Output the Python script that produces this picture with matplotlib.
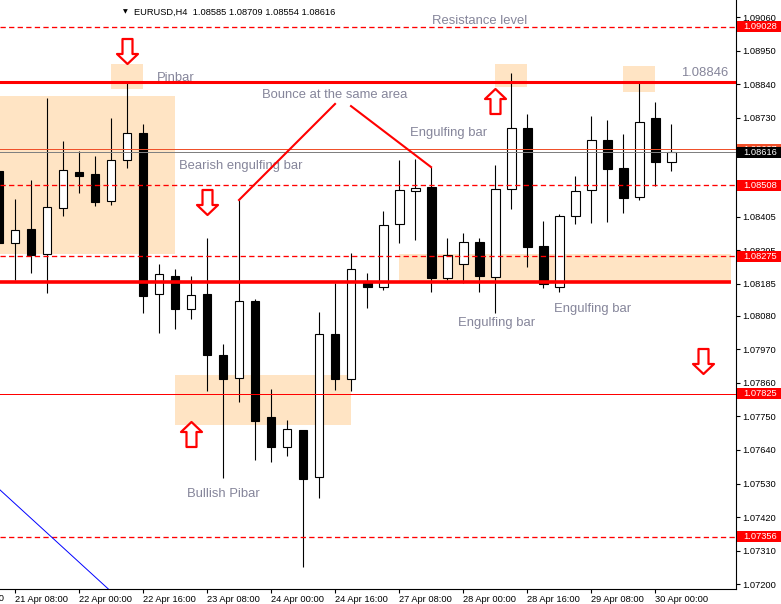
import numpy as np
import matplotlib
matplotlib.use("Agg")
import matplotlib.pyplot as plt
import matplotlib.transforms as mtransforms
from matplotlib.patches import Rectangle
from matplotlib.path import Path

plt.rcParams['font.family'] = ['Liberation Sans', 'DejaVu Sans']

# EURUSD H4 bars, index 0 = 21 Apr 04:00
opens = [1.08555, 1.08319, 1.08365, 1.08283, 1.08434, 1.08552, 1.08545, 1.08456, 1.08591, 1.08680,
         1.08151, 1.08211, 1.08102, 1.08151, 1.07951, 1.07876, 1.08128, 1.07748, 1.07650, 1.07705,
         1.07551, 1.08020, 1.07873, 1.08194, 1.08174, 1.08381, 1.08489, 1.08502, 1.08204, 1.08250,
         1.08322, 1.08207, 1.08496, 1.08696, 1.08309, 1.08174, 1.08407, 1.08493, 1.08657, 1.08565,
         1.08470, 1.08729, 1.08585]
highs = [1.08575, 1.08463, 1.08525, 1.08794, 1.08653, 1.08621, 1.08604, 1.08729, 1.08847, 1.08709,
         1.08250, 1.08233, 1.08211, 1.08335, 1.07987, 1.08460, 1.08135, 1.07840, 1.07738, 1.07705,
         1.08092, 1.08188, 1.08286, 1.08220, 1.08424, 1.08591, 1.08594, 1.08568, 1.08335, 1.08352,
         1.08335, 1.08575, 1.08876, 1.08742, 1.08391, 1.08414, 1.08538, 1.08735, 1.08722, 1.08676,
         1.08844, 1.08781, 1.08709]
lows = [1.08296, 1.08197, 1.08220, 1.08155, 1.08407, 1.08483, 1.08440, 1.08443, 1.08565, 1.08089,
        1.08024, 1.08037, 1.08069, 1.07833, 1.07548, 1.07797, 1.07607, 1.07600, 1.07620, 1.07256,
        1.07482, 1.07837, 1.07833, 1.08106, 1.08165, 1.08319, 1.08329, 1.08158, 1.08197, 1.08188,
        1.08158, 1.08089, 1.08430, 1.08240, 1.08171, 1.08158, 1.08381, 1.08384, 1.08388, 1.08417,
        1.08460, 1.08506, 1.08554]
closes = [1.08319, 1.08361, 1.08279, 1.08437, 1.08558, 1.08538, 1.08453, 1.08591, 1.08680, 1.08145,
          1.08217, 1.08102, 1.08148, 1.07951, 1.07873, 1.08128, 1.07735, 1.07650, 1.07709, 1.07545,
          1.08020, 1.07873, 1.08233, 1.08174, 1.08378, 1.08493, 1.08499, 1.08204, 1.08279, 1.08322,
          1.08211, 1.08496, 1.08696, 1.08306, 1.08184, 1.08407, 1.08489, 1.08657, 1.08561, 1.08466,
          1.08716, 1.08585, 1.08616]

x_tick_pos = [1, 5, 9, 13, 17, 21, 25, 29, 33, 37, 41]
x_tick_labels = ['21 Apr 08:00', '22 Apr 00:00', '22 Apr 16:00', '23 Apr 08:00', '24 Apr 00:00',
                 '24 Apr 16:00', '27 Apr 08:00', '28 Apr 00:00', '28 Apr 16:00', '29 Apr 08:00',
                 '30 Apr 00:00']
y_ticks = [1.09060, 1.08950, 1.08840, 1.08730, 1.08620, 1.08510, 1.08405, 1.08295, 1.08185,
           1.08080, 1.07970, 1.07860, 1.07750, 1.07640, 1.07530, 1.07420, 1.07310, 1.07200]

dashed_levels = [1.09028, 1.08508, 1.08275, 1.07356]
resistance = 1.08846
support = 1.08192
thin_level = 1.07825
orange_level = 1.08627
bid = closes[-1]

# zones: x0, x1, y0, y1
zones = [(-1, 11, 1.08283, 1.08801), (7, 9, 1.08824, 1.08906), (31, 33, 1.08830, 1.08906),
         (39, 41, 1.08814, 1.08899), (25, 45.75, 1.08190, 1.08283), (11, 22, 1.07722, 1.07886)]
# arrows: x, y, direction
arrows = [(8, 1.08950, 'down'), (13, 1.08455, 'down'), (31, 1.08785, 'up'),
          (12, 1.07691, 'up'), (44, 1.07932, 'down')]

fig = plt.figure(figsize=(7.81, 6.04), dpi=100)
ax = fig.add_axes([0, 15 / 604, 736 / 781, 589 / 604])
ax.set_xlim(0.0625, 46.06)
ax.set_ylim(1.07184, 1.09116)

tag_tr = mtransforms.blended_transform_factory(ax.transAxes, ax.transData)

for x0, x1, y0, y1 in zones:
    ax.add_patch(Rectangle((x0, y0), x1 - x0, y1 - y0, facecolor='#FFE4C4', edgecolor='none', zorder=0))

# candles
idx = np.arange(len(opens))
o = np.array(opens); c = np.array(closes)
up = c >= o
ax.vlines(idx, lows, highs, color='black', lw=0.8, zorder=3)
body_lo = np.minimum(o, c)
body_h = np.maximum(np.abs(c - o), 0.00003)
ax.bar(idx, body_h, bottom=body_lo, width=0.56, color=np.where(up, 'white', 'black'),
       edgecolor='black', lw=0.8, zorder=4)

# levels
thin = dict(lw=0.72, snap=True, zorder=5)
for lv in dashed_levels:
    ax.axhline(lv, color='red', lw=0.95, ls=(0, (4, 2.5)), snap=True, zorder=5)
ax.axhline(resistance, color='red', lw=2.2, zorder=5)
ax.hlines(support, -1, 45.75, color='red', lw=2.6, zorder=5)
ax.axhline(thin_level, color='red', **thin)
ax.axhline(orange_level, color='#F0502A', **thin)
ax.axhline(bid, color='#808080', **thin)

# bounce lines + trendline
ax.plot([15, 21], [highs[15], 1.08775], color='red', lw=1.5, zorder=5)
ax.plot([22, 27], [1.08768, highs[27]], color='red', lw=1.5, zorder=5)
ax.plot([0, 8], [1.07512, 1.07128], color='blue', lw=0.7, zorder=5)

# arrows
shape = [(-5, 12.5), (5, 12.5), (5, -2.5), (10.5, -2.5), (0, -12.5), (-10.5, -2.5), (-5, -2.5), (-5, 12.5)]
down_arrow = Path(shape, closed=True)
up_arrow = Path([(x, -y) for x, y in shape], closed=True)
for ax_x, ax_y, d in arrows:
    ax.plot(ax_x, ax_y, marker=down_arrow if d == 'down' else up_arrow, ms=18,
            mfc='white', mec='red', mew=1.6, zorder=6)

# annotations
note = dict(color='#85859a', fontsize=9.4, va='center', ha='left', zorder=2)
ax.text(27.06, 1.09047, 'Resistance level', **note)
ax.text(9.875, 1.08860, 'Pinbar', **note)
ax.text(42.625, 1.08876, '1.08846', **note)
ax.text(16.44, 1.08804, 'Bounce at the same area', **note)
ax.text(25.69, 1.08680, 'Engulfing bar', **note)
ax.text(11.25, 1.08571, 'Bearish engulfing bar', **note)
ax.text(28.69, 1.08056, 'Engulfing bar', **note)
ax.text(34.69, 1.08102, 'Engulfing bar', **note)
ax.text(11.75, 1.07495, 'Bullish Pibar', **note)

# axes styling
for s in ['left', 'top']:
    ax.spines[s].set_visible(False)
for s in ['right', 'bottom']:
    ax.spines[s].set_linewidth(0.8)
ax.yaxis.tick_right()
ax.set_yticks(y_ticks, [f'{v:.5f}' for v in y_ticks])
ax.set_xticks(x_tick_pos, x_tick_labels, ha='left')
ax.tick_params(axis='both', direction='out', length=3, width=0.8, labelsize=6.7, pad=1.5)
ax.text(-3, -5 / 589, '20 Apr 16:00', transform=mtransforms.blended_transform_factory(ax.transData, ax.transAxes),
        fontsize=6.7, ha='left', va='top', clip_on=False)

# price tags on the right scale, later tags drawn on top
tag_z = [10]
def price_tag(y, text, bg):
    z = tag_z[0]
    ax.add_patch(Rectangle((1.0014, y - 0.00018), 0.061, 0.00036, transform=tag_tr, facecolor=bg,
                           edgecolor='none', clip_on=False, zorder=z))
    ax.text(1.0095, y, text, transform=tag_tr, color='white', fontsize=6.7, va='center', ha='left',
            zorder=z + 0.5, clip_on=False)
    tag_z[0] += 1

for lv in dashed_levels:
    price_tag(lv, f'{lv:.5f}', 'red')
price_tag(thin_level, f'{thin_level:.5f}', 'red')
price_tag(orange_level, f'{orange_level:.5f}', '#F0502A')
price_tag(bid, f'{bid:.5f}', 'black')

# header
fig.text(125 / 781, 1 - 12 / 604, '\u25bc', fontsize=4.5, family='DejaVu Sans', ha='center', va='center')
fig.text(134 / 781, 1 - 12 / 604,
         f'EURUSD,H4  {opens[-1]:.5f} {highs[-1]:.5f} {lows[-1]:.5f} {closes[-1]:.5f}',
         fontsize=6.7, ha='left', va='center')

fig.savefig('out.png', dpi=100)
